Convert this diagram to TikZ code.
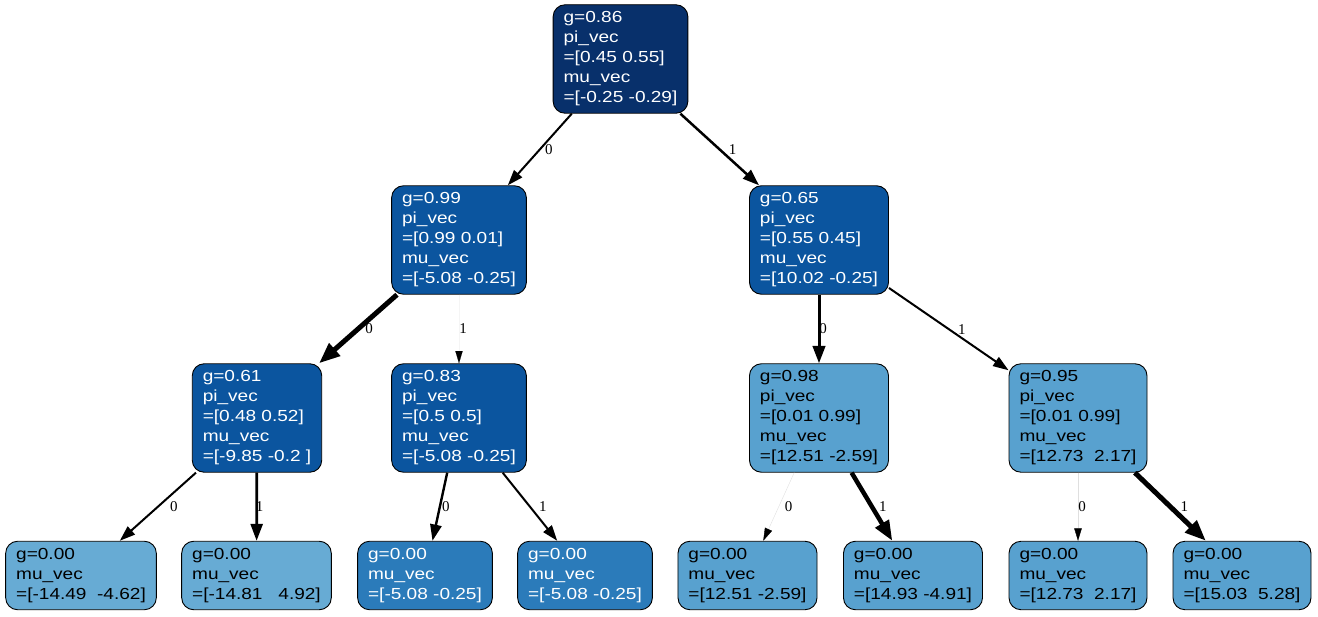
\documentclass[tikz,border=0pt]{standalone}
\usepackage{fontspec}
\setmainfont{Liberation Sans}[FakeStretch=1.19]
\newfontfamily\edgefont{Liberation Serif}
\usetikzlibrary{arrows.meta}
\definecolor{blueD}{HTML}{08306B}
\definecolor{blueA}{HTML}{0B559F}
\definecolor{blueB}{HTML}{2B7BBA}
\definecolor{blueC}{HTML}{58A1CF}
\definecolor{blueE}{HTML}{67ABD4}

\begin{document}
\begin{tikzpicture}[x=1pt, y=-1pt,
	>={Triangle[length=12pt 1.8, width=7pt 1.8, color=black]},
	tnode/.style={draw=black, line width=0.9pt, rounded corners=12pt, align=left,
		inner xsep=10.5pt, inner ysep=7pt, font=\fontsize{16}{20}\selectfont},
	dark/.style={tnode, fill=#1, text=white},
	light/.style={tnode, fill=#1, text=black},
	link/.style={->, line width=#1},
	faint/.style={->, line width=#1, draw=gray!25},
	elabel/.style={midway, inner sep=0pt, font=\edgefont\fontsize{15}{15}\selectfont}]

\useasboundingbox (0,0) rectangle (1318,617);

% ================= root =================
\node[dark=blueD] (root) at (620.5,59)
	{g=0.86\\pi\_vec\\=[0.45 0.55]\\mu\_vec\\=[-0.25 -0.29]};

% ================= level 1 =================
\node[dark=blueA] (n0) at (459,240)
	{g=0.99\\pi\_vec\\=[0.99 0.01]\\mu\_vec\\=[-5.08 -0.25]};
\node[dark=blueA] (n1) at (819,240)
	{g=0.65\\pi\_vec\\=[0.55 0.45]\\mu\_vec\\=[10.02 -0.25]};

% ================= level 2 =================
\node[dark=blueA] (n00) at (257,418)
	{g=0.61\\pi\_vec\\=[0.48 0.52]\\mu\_vec\\=[-9.85 -0.2~]};
\node[dark=blueA] (n01) at (459,418)
	{g=0.83\\pi\_vec\\=[0.5 0.5]\\mu\_vec\\=[-5.08 -0.25]};
\node[light=blueC] (n10) at (819,418)
	{g=0.98\\pi\_vec\\=[0.01 0.99]\\mu\_vec\\=[12.51 -2.59]};
\node[light=blueC] (n11) at (1078,418)
	{g=0.95\\pi\_vec\\=[0.01 0.99]\\mu\_vec\\=[12.73~~2.17]};

% ================= leaves =================
\node[light=blueE] (l000) at (81,575.5)   {g=0.00\\mu\_vec\\=[-14.49~~-4.62]};
\node[light=blueE] (l001) at (256.5,575.5) {g=0.00\\mu\_vec\\=[-14.81~~~4.92]};
\node[dark=blueB]  (l010) at (425,575.5)  {g=0.00\\mu\_vec\\=[-5.08 -0.25]};
\node[dark=blueB]  (l011) at (585,575.5)  {g=0.00\\mu\_vec\\=[-5.08 -0.25]};
\node[light=blueC] (l100) at (747.5,575.5) {g=0.00\\mu\_vec\\=[12.51 -2.59]};
\node[light=blueC] (l101) at (913,575.5)  {g=0.00\\mu\_vec\\=[14.93 -4.91]};
\node[light=blueC] (l110) at (1078,575.5) {g=0.00\\mu\_vec\\=[12.73~~2.17]};
\node[light=blueC] (l111) at (1242,575.5) {g=0.00\\mu\_vec\\=[15.03~~5.28]};

% ================= edges =================
\draw[link=2]   (root) -- (n0) node[elabel, xshift=9] {0};
\draw[link=2.5] (root) -- (n1) node[elabel, xshift=13] {1};

\draw[link=5]     (n0) -- (n00) node[elabel, xshift=11] {0};
\draw[faint=0.1, draw=gray!8] (n0) -- (n01) node[elabel, xshift=4] {1};
\draw[link=3]     (n1) -- (n10) node[elabel, xshift=4] {0};
\draw[link=2]     (n1) -- (n11) node[elabel, xshift=13] {1};

\draw[link=2]     (n00) -- (l000) node[elabel, xshift=16] {0};
\draw[link=2.7]   (n00) -- (l001) node[elabel, xshift=3] {1};
\draw[link=2.4]   (n01) -- (l010) node[elabel, xshift=6] {0};
\draw[link=2]     (n01) -- (l011) node[elabel, xshift=13] {1};
\draw[faint=0.4]  (n10) -- (l100) node[elabel, xshift=10] {0};
\draw[link=4.5]   (n10) -- (l101) node[elabel, xshift=11] {1};
\draw[faint=0.3]  (n11) -- (l110) node[elabel, xshift=4] {0};
\draw[link=5]     (n11) -- (l111) node[elabel, xshift=14] {1};

\end{tikzpicture}
\end{document}
